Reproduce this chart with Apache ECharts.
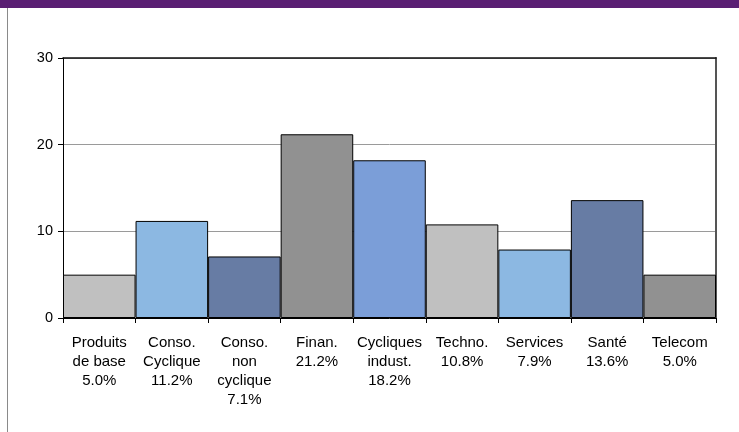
<!DOCTYPE html>
<html>
<head>
<meta charset="utf-8">
<script src="https://cdn.jsdelivr.net/npm/echarts@6/dist/echarts.min.js"></script>
<style>
html,body{margin:0;padding:0;background:#ffffff;}
#c{width:739px;height:432px;}
</style>
</head>
<body>
<div id="c"></div>
<script>
const sectors = ['Produits\nde base', 'Conso.\nCyclique', 'Conso.\nnon\ncyclique', 'Finan.', 'Cycliques\nindust.', 'Techno.', 'Services', 'Santé', 'Telecom'];
const weights = [5.0, 11.2, 7.1, 21.2, 18.2, 10.8, 7.9, 13.6, 5.0];
const barColors = ['#c0c0c0', '#8cb8e2', '#677ca4', '#919191', '#7b9ed8', '#c0c0c0', '#8cb8e2', '#677ca4', '#919191'];
const yTicks = [0, 10, 20, 30];

const categories = sectors.map((s, i) => s + '\n' + weights[i].toFixed(1) + '%');

const chart = echarts.init(document.getElementById('c'), null, {renderer: 'canvas'});
const font = 'Liberation Sans, Arial, sans-serif';
chart.setOption({
  animation: false,
  backgroundColor: '#ffffff',
  graphic: [
    {type: 'rect', left: 0, top: 0, shape: {width: 739, height: 8}, style: {fill: '#5a1f73'}},
    {type: 'line', shape: {x1: 7.5, y1: 8, x2: 7.5, y2: 432}, style: {stroke: '#8a8a8a', lineWidth: 1}}
  ],
  grid: {left: 63, top: 58, width: 653, height: 260, containLabel: false},
  xAxis: [{
    type: 'category',
    data: categories,
    position: 'bottom',
    axisLine: {onZero: false, lineStyle: {color: '#000', width: 1}},
    axisTick: {show: true, alignWithLabel: false, length: 5, lineStyle: {color: '#000'}},
    axisLabel: {interval: 0, color: '#000', fontFamily: font, fontSize: 15, lineHeight: 19, margin: 15, align: 'center'},
    splitLine: {show: false}
  }, {
    type: 'category',
    data: categories,
    position: 'top',
    axisLine: {show: true, onZero: false, lineStyle: {color: '#111', width: 1.5}},
    axisTick: {show: false},
    axisLabel: {show: false},
    splitLine: {show: false}
  }],
  yAxis: [{
    type: 'value',
    min: 0, max: 30, interval: 10,
    axisLine: {show: true, onZero: false, lineStyle: {color: '#000', width: 1}},
    axisTick: {show: true, length: 5, lineStyle: {color: '#000'}},
    axisLabel: {color: '#000', fontFamily: font, fontSize: 14.5, margin: 10},
    splitLine: {show: true, lineStyle: {color: '#9a9a9a', width: 1}}
  }, {
    type: 'value',
    min: 0, max: 30, interval: 10,
    position: 'right',
    axisLine: {show: true, onZero: false, lineStyle: {color: '#555', width: 2}},
    axisTick: {show: false},
    axisLabel: {show: false},
    splitLine: {show: false}
  }],
  series: [{
    type: 'bar',
    data: weights.map((v, i) => ({value: v, itemStyle: {color: barColors[i]}})),
    barCategoryGap: '0%',
    itemStyle: {borderColor: '#000', borderWidth: 1}
  }]
});
</script>
</body>
</html>
